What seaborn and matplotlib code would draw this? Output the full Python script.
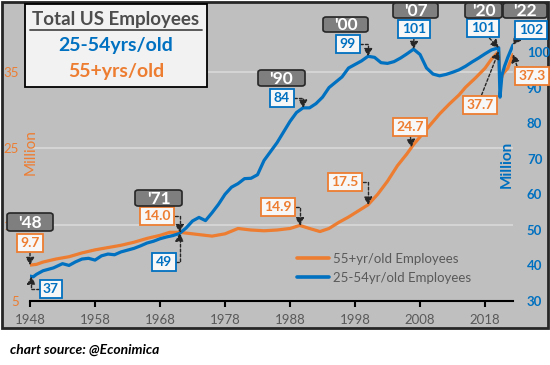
import numpy as np
import matplotlib

matplotlib.use("Agg")
import matplotlib.pyplot as plt
import seaborn as sns
from matplotlib.lines import Line2D
from matplotlib.patches import FancyBboxPatch, Rectangle

ORANGE = "#ED7D31"
BLUE = "#0070C0"
PANEL = "#BFBFBF"
GRID = "#D9D9D9"
TEXT_GREY = "#595959"
TAG_FILL = "#7F7F7F"

# 25-54 yr old employees (millions, right axis)
prime_years = [
    1948.0, 1948.5, 1949, 1950, 1951.6, 1953, 1954, 1955, 1956, 1957, 1958,
    1959, 1960, 1961, 1962, 1963, 1964, 1965, 1966, 1967, 1968, 1969, 1970,
    1971, 1972, 1973, 1974, 1975, 1976, 1977, 1978, 1979, 1980, 1981, 1982,
    1983, 1984, 1985, 1986, 1987, 1988, 1989, 1990, 1991, 1992, 1993, 1994,
    1995, 1996, 1997, 1998, 1999, 2000, 2001, 2002, 2003, 2004, 2005, 2006,
    2007, 2008, 2009, 2010, 2011, 2012, 2013, 2014, 2015, 2016, 2017, 2018,
    2019, 2020.1, 2020.3, 2020.6, 2021, 2021.5, 2022.3,
]
prime_millions = [
    37.0, 36.8, 37.5, 38.5, 39.3, 40.5, 40.0, 41.0, 41.8, 42.0, 41.5,
    42.7, 43.2, 43.0, 43.8, 44.3, 44.8, 45.5, 46.3, 46.8, 47.5, 48.0, 48.4,
    49.0, 50.5, 52.5, 53.5, 52.6, 54.8, 57.2, 60.0, 62.0, 63.0, 64.4, 64.5,
    65.5, 69.5, 72.0, 74.5, 77.5, 80.5, 83.0, 84.3, 84.3, 85.5, 87.3, 90.0,
    91.5, 93.0, 95.5, 96.5, 97.5, 98.8, 98.5, 97.0, 96.8, 97.3, 98.3, 99.5,
    100.8, 99.3, 95.5, 93.8, 93.3, 93.7, 94.3, 95.0, 96.0, 97.2, 98.3, 99.5,
    100.6, 101.2, 87.3, 93.5, 96.0, 98.5, 102.0,
]

# 55+ yr old employees (millions, left axis)
older_years = [
    1948, 1949, 1950, 1952, 1954, 1956, 1958, 1960, 1962, 1964, 1966, 1968,
    1969.5, 1971, 1972, 1974, 1976, 1978, 1980, 1982, 1984, 1986, 1988,
    1989.5, 1991, 1992.6, 1994, 1995.5, 1997, 1998.5, 2000, 2001.5, 2003,
    2004.5, 2006, 2007, 2008, 2009, 2010, 2011, 2012.5, 2014, 2015, 2016.5,
    2018, 2019, 2020.1, 2020.3, 2020.8, 2021.5, 2022.3,
]
older_millions = [
    9.7, 9.8, 10.1, 10.5, 10.8, 11.3, 11.7, 12.0, 12.3, 12.7, 13.2, 13.6,
    14.0, 14.0, 13.9, 13.7, 13.5, 13.8, 14.5, 14.3, 14.2, 14.3, 14.5,
    14.9, 14.5, 14.1, 14.5, 15.3, 16.0, 16.8, 17.6, 19.0, 20.7,
    22.7, 24.3, 25.5, 26.5, 27.5, 28.5, 29.5, 30.8, 32.0, 33.0, 34.2,
    35.5, 36.7, 37.7, 33.8, 34.8, 35.5, 37.3,
]

x_ticks = [1948, 1958, 1968, 1978, 1988, 1998, 2008, 2018]
left_ticks = [5, 15, 25, 35]
right_ticks = [30, 40, 50, 60, 70, 80, 90, 100]

# year tags: label, box in image pixels (x0, y0, x1, y1)
tag_labels = ["'48", "'71", "'90", "'00", "'07", "'20", "'22"]
tag_boxes = [
    (7, 213, 53, 231), (135, 190, 182, 206), (258, 70, 305, 86),
    (323, 17, 368, 32), (393, 3, 438, 18), (465, 3, 502, 18),
    (503, 3, 547, 18),
]

# value callouts: text, series, year of the point, box centre px, start, elbow
callout_text = ["9.7", "37", "14.0", "49", "84", "14.9", "99", "17.5",
                "101", "24.7", "101", "37.7", "102", "37.3"]
callout_series = ["older", "prime", "older", "prime", "prime", "older",
                  "prime", "older", "prime", "older", "prime", "older",
                  "prime", "older"]
callout_year = [1948, 1948.2, 1971, 1971, 1990, 1989.5, 2000, 2000,
                2007, 2006.7, 2020.1, 2020.1, 2022.3, 2022.3]
callout_centre = [(30, 243), (51, 289), (157, 216), (164, 262),
                  (282, 98), (278, 207), (348, 44), (345, 182),
                  (414, 29), (410, 127), (483, 28), (480, 105),
                  (531, 30), (532, 76)]
callout_relpos = [(0.5, 0), (0, 0.5), (1, 0.5), (1, 0.5), (1, 0.5),
                  (1, 0.5), (1, 0.5), (1, 0.5), (0.5, 0), (0.5, 0),
                  (0.6, 0), (0.5, 1), (0, 0), (0, 1)]
callout_elbow = [False, True, True, True, True, True, True, True,
                 False, False, False, False, False, False]

W, H = 550, 365


def fig_xy(x, y):
    return x / W, 1 - y / H


sns.set_theme(style="white")
plt.rcParams["font.family"] = ["Lato", "DejaVu Sans"]

fig = plt.figure(figsize=(W / 100, H / 100), dpi=100, facecolor="white")
fig.patches.append(
    Rectangle(fig_xy(2, 328), 546 / W, 326 / H, transform=fig.transFigure,
              facecolor=PANEL, edgecolor="#262626", linewidth=2, zorder=-5)
)

ax = fig.add_axes([30 / W, (H - 301) / H, 483 / W, 296 / H])
ax.patch.set_visible(False)
ax2 = ax.twinx()
ax2.patch.set_visible(False)

sns.lineplot(x=older_years, y=older_millions, ax=ax, color=ORANGE,
             linewidth=2.3, legend=False)
sns.lineplot(x=prime_years, y=prime_millions, ax=ax2, color=BLUE,
             linewidth=2.3, legend=False)

ax.set_xlim(1948, 2022.3)
ax.set_ylim(5, 5 + 296 / 7.633)
ax2.set_ylim(30, 30 + 296 / 3.557)

ax.set_xticks(x_ticks)
ax.set_yticks(left_ticks)
ax2.set_yticks(right_ticks)
ax.yaxis.grid(True, color=GRID, linewidth=1.2)
ax.xaxis.grid(False)
ax.set_xlabel("")
ax.set_ylabel("")
ax2.set_ylabel("")

for spine in ["left", "right", "top"]:
    ax.spines[spine].set_visible(False)
    ax2.spines[spine].set_visible(False)
ax2.spines["bottom"].set_visible(False)
ax.spines["bottom"].set_color("black")
ax.spines["bottom"].set_linewidth(1.5)

ax.tick_params(axis="x", direction="out", length=4, width=1.5, color="black",
               labelsize=9.5, labelcolor=TEXT_GREY, pad=5, bottom=True)
ax.tick_params(axis="y", length=0, labelsize=9.5, labelcolor=ORANGE, pad=8)
ax2.tick_params(axis="y", length=0, labelsize=9.5, labelcolor=BLUE, pad=10)
for label in ax2.get_yticklabels():
    label.set_fontweight("bold")

fig.text(*fig_xy(31, 152), "Million", color=ORANGE, rotation=90,
         ha="center", va="center", fontsize=11)
fig.text(*fig_xy(507, 164), "Million", color=BLUE, rotation=90,
         ha="center", va="center", fontsize=11, fontweight="bold")

handles = [Line2D([], [], color=ORANGE, linewidth=2.6),
           Line2D([], [], color=BLUE, linewidth=2.6)]
legend = ax2.legend(handles, ["55+yr/old Employees", "25-54yr/old Employees"],
                    loc="upper left", bbox_to_anchor=fig_xy(297, 253),
                    bbox_transform=fig.transFigure, frameon=False,
                    fontsize=9.5, handlelength=2.4, handletextpad=0.3,
                    labelspacing=0.5, borderpad=0, borderaxespad=0)
for text in legend.get_texts():
    text.set_color(TEXT_GREY)

# title box
x0, y0 = fig_xy(25, 87)
fig.patches.append(
    Rectangle((x0, y0), 182 / W, 83 / H, transform=fig.transFigure,
              facecolor="#F2F2F2", edgecolor="black", linewidth=1.3, zorder=1)
)
fig.text(*fig_xy(116, 20), "Total US Employees", color="#4D4D4D",
         fontsize=13.5, fontweight="bold", ha="center", va="center", zorder=2)
fig.add_artist(Line2D([30 / W, 202 / W], [1 - 29.5 / H, 1 - 29.5 / H],
                      color="#4D4D4D", linewidth=1.3))
fig.text(*fig_xy(116, 46), "25-54yrs/old", color=BLUE, fontsize=14,
         fontweight="bold", ha="center", va="center", zorder=2)
fig.text(*fig_xy(116, 72), "55+yrs/old", color=ORANGE, fontsize=14,
         fontweight="bold", ha="center", va="center", zorder=2)

# year tags
for label, (bx0, by0, bx1, by1) in zip(tag_labels, tag_boxes):
    fx, fy = fig_xy(bx0, by1)
    fig.patches.append(
        FancyBboxPatch((fx, fy), (bx1 - bx0) / W, (by1 - by0) / H,
                       boxstyle="round,pad=0,rounding_size=0.006",
                       transform=fig.transFigure, facecolor=TAG_FILL,
                       edgecolor="#262626", linewidth=1.2, zorder=3)
    )
    fig.text(*fig_xy((bx0 + bx1) / 2, (by0 + by1) / 2 + 0.5), label,
             color="white", fontsize=12.5, fontweight="bold",
             ha="center", va="center", zorder=4)

# value callouts with arrows to the line
for text, series, year, centre, relpos, elbow in zip(
    callout_text, callout_series, callout_year, callout_centre,
    callout_relpos, callout_elbow
):
    if series == "older":
        value = np.interp(year, older_years, older_millions)
        colour = ORANGE
        transform = ax.transData
    else:
        value = np.interp(year, prime_years, prime_millions)
        colour = BLUE
        transform = ax2.transData
    style = "angle,angleA=0,angleB=90,rad=0" if elbow else "arc3"
    ax2.annotate(
        text, xy=(year, value), xycoords=transform,
        xytext=fig_xy(*centre), textcoords="figure fraction",
        ha="center", va="center", color=colour, fontsize=10,
        fontweight="bold", zorder=6, annotation_clip=False,
        bbox=dict(boxstyle="square,pad=0.25", facecolor="#F7F7F7",
                  edgecolor=colour, linewidth=1.3),
        arrowprops=dict(arrowstyle="-|>,head_length=0.45,head_width=0.25",
                        color="#262626", linewidth=1, linestyle=(0, (2, 1.5)),
                        connectionstyle=style, relpos=relpos,
                        shrinkA=0, shrinkB=0),
    )

fig.text(*fig_xy(10, 350), "chart source: @Econimica", color="black",
         fontsize=10, fontweight="bold", fontstyle="italic",
         ha="left", va="center")

fig.savefig("out.png", dpi=100)
